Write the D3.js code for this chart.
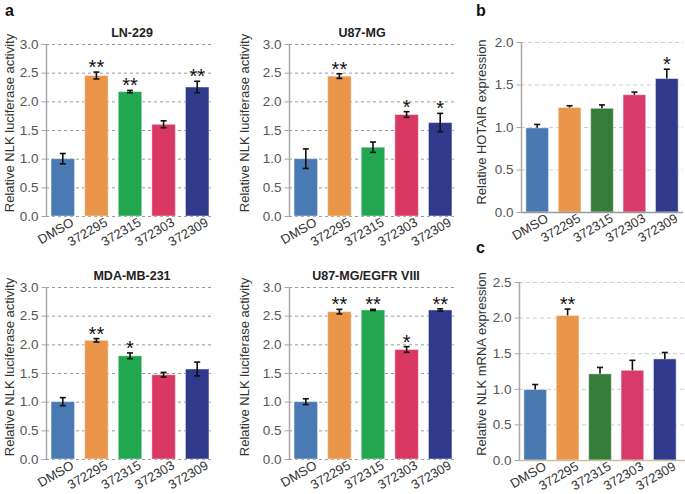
<!DOCTYPE html>
<html>
<head>
<meta charset="utf-8">
<script src="https://cdn.jsdelivr.net/npm/d3@7"></script>
<style>
  html, body { margin: 0; padding: 0; background: #fff; }
  svg { display: block; }
  text { font-family: Arial, "Liberation Sans", Helvetica, sans-serif; }
</style>
</head>
<body>
<svg id="chart" width="685" height="494"></svg>
<script>
// ---------------- DATA ----------------
const categories = ["DMSO", "372295", "372315", "372303", "372309"];

const ln229Values = [1.00, 2.45, 2.17, 1.60, 2.25];
const ln229Errors = [0.09, 0.06, 0.02, 0.06, 0.10];
const ln229Stars  = ["", "**", "**", "", "**"];

const u87Values = [1.00, 2.44, 1.20, 1.77, 1.63];
const u87Errors = [0.17, 0.04, 0.09, 0.05, 0.16];
const u87Stars  = ["", "**", "", "*", "*"];

const mdaValues = [1.00, 2.07, 1.80, 1.47, 1.57];
const mdaErrors = [0.07, 0.03, 0.05, 0.04, 0.12];
const mdaStars  = ["", "**", "*", "", ""];

const egfrValues = [1.00, 2.57, 2.60, 1.91, 2.60];
const egfrErrors = [0.05, 0.04, 0.01, 0.05, 0.02];
const egfrStars  = ["", "**", "**", "*", "**"];

const hotairValues = [0.99, 1.23, 1.22, 1.38, 1.57];
const hotairErrors = [0.04, 0.02, 0.04, 0.03, 0.11];
const hotairStars  = ["", "", "", "", "*"];

const nlkValues = [0.99, 2.03, 1.21, 1.26, 1.42];
const nlkErrors = [0.07, 0.09, 0.09, 0.14, 0.09];
const nlkStars  = ["", "**", "", "", ""];

const luciferaseTicks = [0, 0.5, 1.0, 1.5, 2.0, 2.5, 3.0];
const hotairTicks = [0, 0.5, 1.0, 1.5, 2.0];
const nlkTicks = [0, 0.5, 1.0, 1.5, 2.0, 2.5];

const colorsA = ["#4a7ab3", "#e9964a", "#22a650", "#d93862", "#2f3a8d"];
const colorsBC = ["#4a78b1", "#e9964a", "#367d3b", "#d93a6c", "#2f3a8d"];

// ---------------- DRAW ----------------
const svg = d3.select("#chart");

function drawPanel(p) {
  const g = svg.append("g");
  const x = d3.scaleBand().domain(categories).range([p.x0, p.x1])
    .paddingInner(0.3).paddingOuter(0.15);
  const y = d3.scaleLinear().domain([0, p.max]).range([p.yb, p.yt]);

  // grid
  g.selectAll(".grid").data(p.ticks.filter(t => p.bottomColor ? t > 0 : true)).enter()
    .append("line")
    .attr("x1", p.x0).attr("x2", p.gx1)
    .attr("y1", d => y(d) + 0.5).attr("y2", d => y(d) + 0.5)
    .attr("stroke", p.gridColor).attr("stroke-width", 1)
    .attr("stroke-dasharray", p.dash);

  // bars
  g.selectAll(".bar").data(categories).enter().append("rect")
    .attr("x", d => x(d))
    .attr("width", x.bandwidth())
    .attr("y", (d, i) => y(p.values[i]))
    .attr("height", (d, i) => y(0) - y(p.values[i]))
    .attr("fill", (d, i) => p.colors[i])
    .attr("stroke", "rgba(255,255,255,0.45)")
    .attr("stroke-width", 1);

  // error bars
  const cap = 3;
  categories.forEach((c, i) => {
    const cx = x(c) + x.bandwidth() / 2;
    const top = y(p.values[i] + p.errors[i]);
    const bot = p.twoSided ? y(p.values[i] - p.errors[i]) : y(p.values[i]);
    g.append("line").attr("x1", cx).attr("x2", cx).attr("y1", top).attr("y2", bot)
      .attr("stroke", "#111").attr("stroke-width", 1.6);
    g.append("line").attr("x1", cx - cap).attr("x2", cx + cap).attr("y1", top).attr("y2", top)
      .attr("stroke", "#111").attr("stroke-width", 1.6);
    if (p.twoSided) {
      g.append("line").attr("x1", cx - cap).attr("x2", cx + cap).attr("y1", bot).attr("y2", bot)
        .attr("stroke", "#111").attr("stroke-width", 1.6);
    }
    if (p.stars[i]) {
      g.append("text").attr("x", cx).attr("y", top + 2)
        .attr("text-anchor", "middle").attr("font-size", 20)
        .attr("fill", "#111").text(p.stars[i]);
    }
  });

  // bottom axis line (b, c)
  if (p.bottomColor) {
    g.append("line").attr("x1", p.x0).attr("x2", p.gx1)
      .attr("y1", y(0) + 0.5).attr("y2", y(0) + 0.5)
      .attr("stroke", p.bottomColor).attr("stroke-width", 1.5);
  }

  // y axis
  const ax = g.append("g").attr("transform", `translate(${p.x0 + 0.5},0)`)
    .call(d3.axisLeft(y).tickValues(p.ticks).tickFormat(d3.format(".1f"))
      .tickSize(5).tickPadding(3));
  ax.select(".domain").attr("stroke", "#a8a8a8").attr("stroke-width", 1.5)
    .attr("d", `M0,${y(0)}V${y(p.max)}`);
  ax.selectAll(".tick line").attr("stroke", "#a8a8a8");
  ax.selectAll(".tick text").attr("font-size", 13.5).attr("fill", "#555")
    .attr("font-family", "Arial, 'Liberation Sans', sans-serif");

  // x labels
  categories.forEach(c => {
    const cx = x(c) + x.bandwidth() / 2 + 12;
    const cy = y(0) + 9;
    g.append("text").attr("transform", `translate(${cx},${cy}) rotate(-30)`)
      .attr("text-anchor", "end").attr("font-size", 13).attr("fill", "#333")
      .text(c);
  });

  // title
  if (p.title) {
    g.append("text").attr("x", p.titleX).attr("y", p.yt - 7)
      .attr("text-anchor", "middle").attr("font-size", 12.5)
      .attr("font-weight", "bold").attr("fill", "#222").text(p.title);
  }

  // y label
  g.append("text")
    .attr("transform", `translate(${p.ylx},${p.ylcy}) rotate(-90)`)
    .attr("text-anchor", "middle").attr("font-size", 13).attr("fill", "#333")
    .text(p.ylabel);
}

const lucLabel = "Relative NLK luciferase activity";
const common = { max: 3.0, ticks: luciferaseTicks, colors: colorsA, twoSided: true,
  gridColor: "#9a9a9a", dash: "3,3", ylabel: lucLabel };

drawPanel(Object.assign({}, common, { x0: 46, x1: 214, gx1: 214, yt: 44, yb: 216,
  values: ln229Values, errors: ln229Errors, stars: ln229Stars, title: "LN-229",
  titleX: 132, ylx: 14, ylcy: 123 }));
drawPanel(Object.assign({}, common, { x0: 289, x1: 457, gx1: 457, yt: 44, yb: 216,
  values: u87Values, errors: u87Errors, stars: u87Stars, title: "U87-MG",
  titleX: 362, ylx: 249, ylcy: 123 }));
drawPanel(Object.assign({}, common, { x0: 46, x1: 214, gx1: 214, yt: 287, yb: 459,
  values: mdaValues, errors: mdaErrors, stars: mdaStars, title: "MDA-MB-231",
  titleX: 132, ylx: 14, ylcy: 367 }));
drawPanel(Object.assign({}, common, { x0: 289, x1: 457, gx1: 457, yt: 287, yb: 459,
  values: egfrValues, errors: egfrErrors, stars: egfrStars, title: "U87-MG/EGFR VIII",
  titleX: 366, ylx: 249, ylcy: 367 }));

drawPanel({ x0: 521, x1: 683, gx1: 683, yt: 42, yb: 212, max: 2.0, ticks: hotairTicks,
  colors: colorsBC, twoSided: false, gridColor: "#cfcfcf", dash: "4,3",
  values: hotairValues, errors: hotairErrors, stars: hotairStars,
  ylabel: "Relative HOTAIR expression", ylx: 486, ylcy: 122, bottomColor: "#9a9a9a" });
drawPanel({ x0: 519, x1: 681, gx1: 685, yt: 282, yb: 460, max: 2.5, ticks: nlkTicks,
  colors: colorsBC, twoSided: false, gridColor: "#cfcfcf", dash: "4,3",
  values: nlkValues, errors: nlkErrors, stars: nlkStars,
  ylabel: "Relative NLK mRNA expression", ylx: 486, ylcy: 364, bottomColor: "#cfc29a" });

// panel letters
[["a", 5, 16], ["b", 476, 16], ["c", 476, 253]].forEach(([t, lx, ly]) => {
  svg.append("text").attr("x", lx).attr("y", ly).attr("font-size", 16)
    .attr("font-weight", "bold").attr("fill", "#111").text(t);
});
</script>
</body>
</html>
